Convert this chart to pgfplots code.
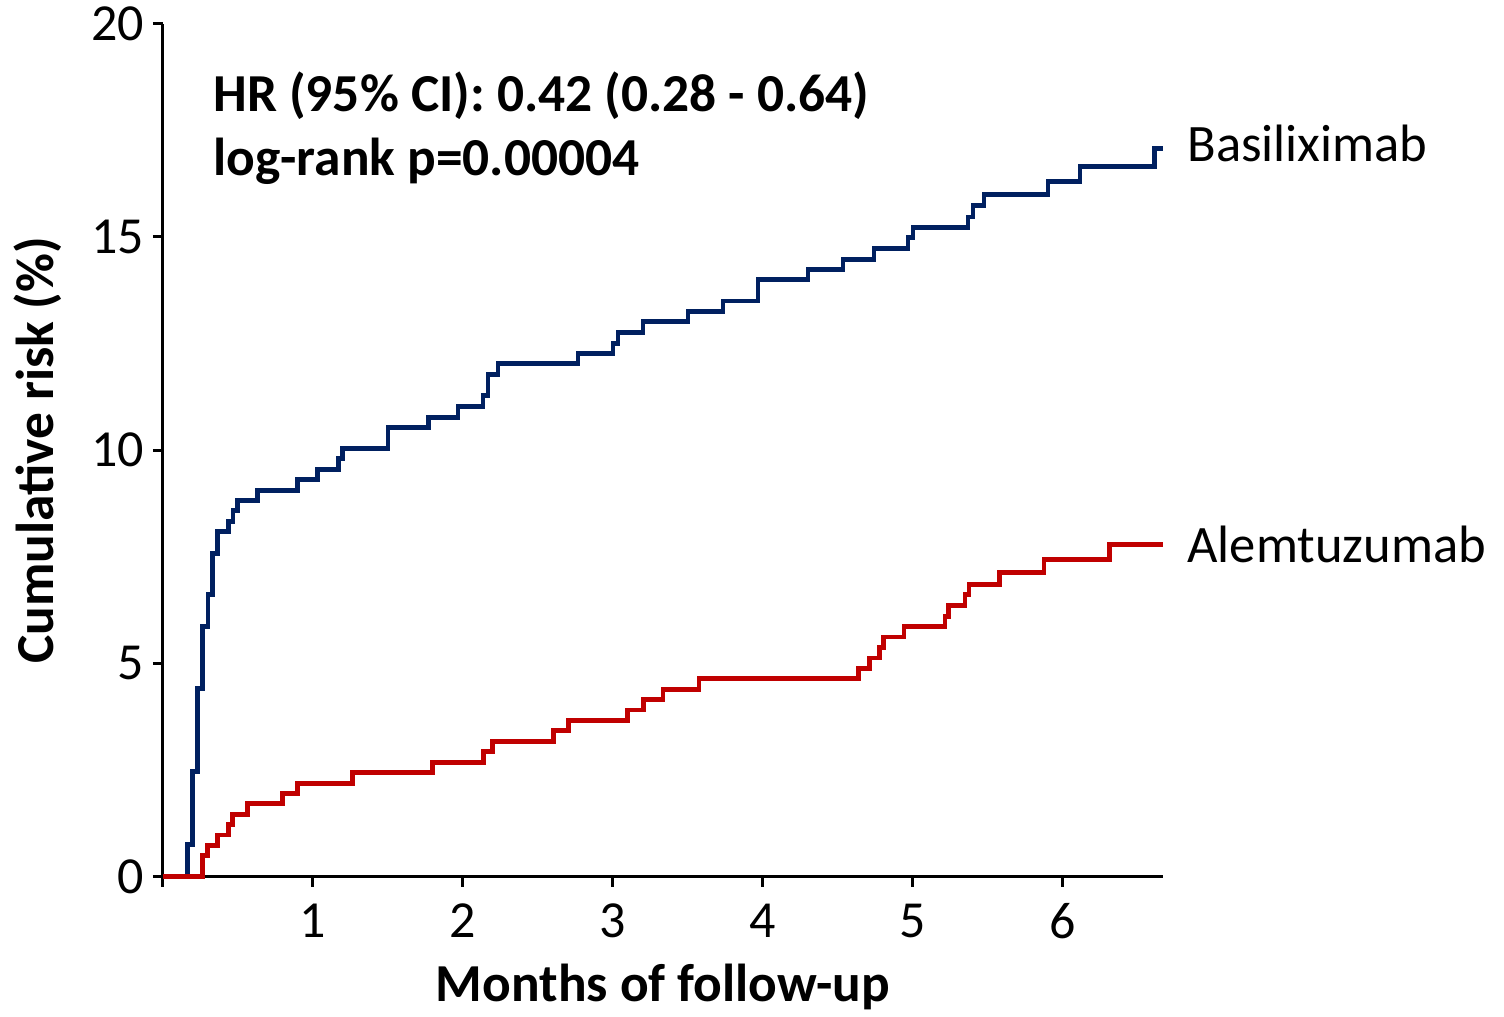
\documentclass[border=0pt]{standalone}
\usepackage{pgfplots}
\pgfplotsset{compat=1.18}
\usepackage{fontspec}
\setmainfont{Carlito}
\definecolor{basblue}{HTML}{002060}
\definecolor{alered}{HTML}{C00000}
\begin{document}
\begin{tikzpicture}
\begin{axis}[
  name=ax,
  scale only axis,
  width=500pt, height=426.5pt,
  xmin=0, xmax=6.667, ymin=0, ymax=20,
  axis lines=left,
  axis line style={line width=1.5pt, -},
  every tick/.style={line width=1.5pt, black},
  tick align=outside,
  major tick length=5pt,
  xtick={0,1,2,3,4,5,6},
  xticklabels={,1,2,3,4,5,6},
  ytick={0,5,10,15,20},
  /pgf/number format/assume math mode=true,
  tick label style={font=\fontsize{26}{30}\selectfont},
  xticklabel style={yshift=-5pt},
  yticklabel style={xshift=-1pt},
  xlabel={\textbf{Months of follow-up}},
  ylabel={\textbf{Cumulative risk (\%)}},
  label style={font=\fontsize{26.7}{30}\selectfont},
  xlabel style={at={(axis description cs:0.5,-0.129)}, anchor=center},
  ylabel style={at={(axis description cs:-0.125,0.5)}, anchor=center, rotate=0},
  clip=false,
]
\addplot[const plot, basblue, line width=2.4pt] coordinates {
(0,0) (0.165,0.75) (0.198,2.46) (0.229,4.42) (0.265,5.86) (0.300,6.61)
(0.331,7.58) (0.362,8.09) (0.435,8.32) (0.467,8.58) (0.498,8.82)
(0.631,9.05) (0.898,9.31) (1.031,9.55) (1.169,9.80) (1.198,10.04)
(1.500,10.53) (1.771,10.77) (1.967,11.02) (2.133,11.28) (2.167,11.77)
(2.233,12.03) (2.767,12.27) (3.000,12.51) (3.033,12.76) (3.200,13.02)
(3.500,13.26) (3.733,13.50) (3.967,14.00) (4.300,14.24) (4.533,14.47)
(4.740,14.73) (4.967,14.98) (5.000,15.22) (5.367,15.47) (5.400,15.73)
(5.473,15.99) (5.900,16.30) (6.113,16.65) (6.613,17.07) (6.667,17.07)
};
\addplot[const plot, alered, line width=2.4pt] coordinates {
(0,0) (0.265,0.49) (0.295,0.73) (0.362,0.98) (0.435,1.22) (0.465,1.46)
(0.565,1.71) (0.798,1.95) (0.898,2.19) (1.265,2.44) (1.798,2.68)
(2.135,2.93) (2.198,3.17) (2.602,3.42) (2.702,3.66) (3.098,3.91)
(3.203,4.15) (3.333,4.39) (3.573,4.64) (4.635,4.88) (4.709,5.13)
(4.775,5.37) (4.802,5.62) (4.940,5.86) (5.213,6.11) (5.235,6.36)
(5.347,6.61) (5.373,6.86) (5.575,7.14) (5.873,7.44) (6.309,7.79)
(6.667,7.79)
};
\node[anchor=north west, align=left, inner sep=0pt,
      font=\fontsize{26.7}{32}\selectfont\bfseries]
  at (rel axis cs:0.05,0.944)
  {HR (95\% CI): 0.42 (0.28 - 0.64)\\log-rank p=0.00004};
\node[anchor=west, inner sep=0pt, font=\fontsize{26.3}{30}\selectfont]
  at (axis cs:6.667,17.2) [xshift=12pt] {Basiliximab};
\node[anchor=west, inner sep=0pt, font=\fontsize{26.3}{30}\selectfont]
  at (axis cs:6.667,7.78) [xshift=12pt] {Alemtuzumab};
\end{axis}
\path ([shift={(-81.5pt,-68.5pt)}]ax.south west) rectangle ++(752pt,506pt);
\end{tikzpicture}
\end{document}
